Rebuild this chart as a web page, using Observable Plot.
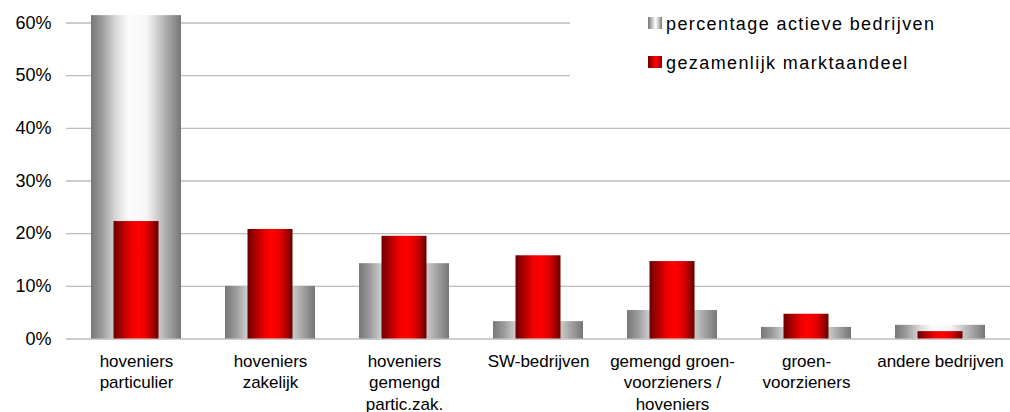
<!DOCTYPE html>
<html>
<head>
<meta charset="utf-8">
<script src="https://cdn.jsdelivr.net/npm/d3@7"></script>
<script src="https://cdn.jsdelivr.net/npm/@observablehq/plot@0.6"></script>
<style>
  html, body { margin: 0; padding: 0; background: #fff; }
  #wrap { position: relative; width: 1010px; height: 412px; font-family: "Liberation Sans", Arial, sans-serif; }
  #legend { position: absolute; left: 570px; top: 0; width: 440px; height: 100px; background: #fff; }
  .sw { position: absolute; width: 14px; height: 12px; }
  .lt { position: absolute; font-size: 18px; letter-spacing: 1.4px; color: #000; white-space: nowrap; line-height: 1; }
</style>
</head>
<body>
<div id="wrap"></div>
<script>
const categories = [
  "hoveniers\nparticulier",
  "hoveniers\nzakelijk",
  "hoveniers\ngemengd\npartic.zak.",
  "SW-bedrijven",
  "gemengd groen-\nvoorzieners /\nhoveniers",
  "groen-\nvoorzieners",
  "andere bedrijven"
];
const actieveBedrijven = [61.4, 10.0, 14.3, 3.3, 5.4, 2.2, 2.6];
const marktaandeel = [22.3, 20.8, 19.5, 15.8, 14.7, 4.7, 1.4];
const yTicks = [0, 10, 20, 30, 40, 50, 60];
const seriesNames = ["percentage actieve bedrijven", "gezamenlijk marktaandeel"];

const greyData = categories.map((c, i) => ({cat: c, v: actieveBedrijven[i]}));
const redData = categories.map((c, i) => ({cat: c, v: marktaandeel[i]}));

const plot = Plot.plot({
  width: 1010,
  height: 412,
  marginLeft: 66,
  marginRight: 0,
  marginTop: 22.5,
  marginBottom: 73.5,
  style: {fontFamily: "'Liberation Sans', Arial, sans-serif", background: "#fff", overflow: "visible"},
  x: {domain: categories, paddingInner: 0.326, paddingOuter: 0.163},
  y: {domain: [0, 60]},
  marks: [
    Plot.ruleY(yTicks, {stroke: "#bcbcbc", strokeWidth: 1.4}),
    Plot.barY(greyData, {x: "cat", y: "v", fill: "url(#gradGrey)"}),
    Plot.barY(redData, {x: "cat", y: "v", fill: "url(#gradRed)", insetLeft: 22.5, insetRight: 22.5}),
    Plot.axisY({ticks: yTicks, tickFormat: d => d + "%", tickSize: 0, tickPadding: 15, fontSize: 18, fill: "#000", label: null}),
    Plot.axisX({tickSize: 0, tickPadding: 13, fontSize: 17, fill: "#000", label: null, lineHeight: 1.25})
  ]
});

const svg = plot.tagName.toLowerCase() === "svg" ? plot : plot.querySelector("svg");
const ns = "http://www.w3.org/2000/svg";
const defs = document.createElementNS(ns, "defs");
function grad(id, stops) {
  const g = document.createElementNS(ns, "linearGradient");
  g.setAttribute("id", id);
  g.setAttribute("x1", "0"); g.setAttribute("x2", "1");
  g.setAttribute("y1", "0"); g.setAttribute("y2", "0");
  for (const [o, c] of stops) {
    const s = document.createElementNS(ns, "stop");
    s.setAttribute("offset", o);
    s.setAttribute("stop-color", c);
    g.appendChild(s);
  }
  defs.appendChild(g);
}
grad("gradGrey", [[0, "#777"], [0.12, "#9a9a9a"], [0.28, "#dadada"], [0.42, "#fcfcfc"], [0.62, "#f6f6f6"], [0.85, "#a8a8a8"], [1, "#767676"]]);
grad("gradRed", [[0, "#6a0000"], [0.15, "#a00000"], [0.4, "#f00000"], [0.55, "#ff0000"], [0.75, "#e00000"], [0.92, "#900000"], [1, "#640000"]]);
svg.insertBefore(defs, svg.firstChild);

const wrap = document.getElementById("wrap");
wrap.appendChild(plot);

const legend = document.createElement("div");
legend.id = "legend";
const fills = ["linear-gradient(to right,#777,#ddd 40%,#fff 55%,#aaa 85%,#777)", "linear-gradient(to right,#6a0000,#f00000 45%,#ff0000 60%,#900000)"];
const tops = [17, 56];
seriesNames.forEach((name, i) => {
  const sw = document.createElement("div");
  sw.className = "sw";
  sw.style.left = "78px";
  sw.style.top = tops[i] + "px";
  sw.style.background = fills[i];
  legend.appendChild(sw);
  const t = document.createElement("div");
  t.className = "lt";
  t.style.left = "96px";
  t.style.top = (tops[i] - 2) + "px";
  t.textContent = name;
  legend.appendChild(t);
});
wrap.appendChild(legend);
</script>
</body>
</html>
